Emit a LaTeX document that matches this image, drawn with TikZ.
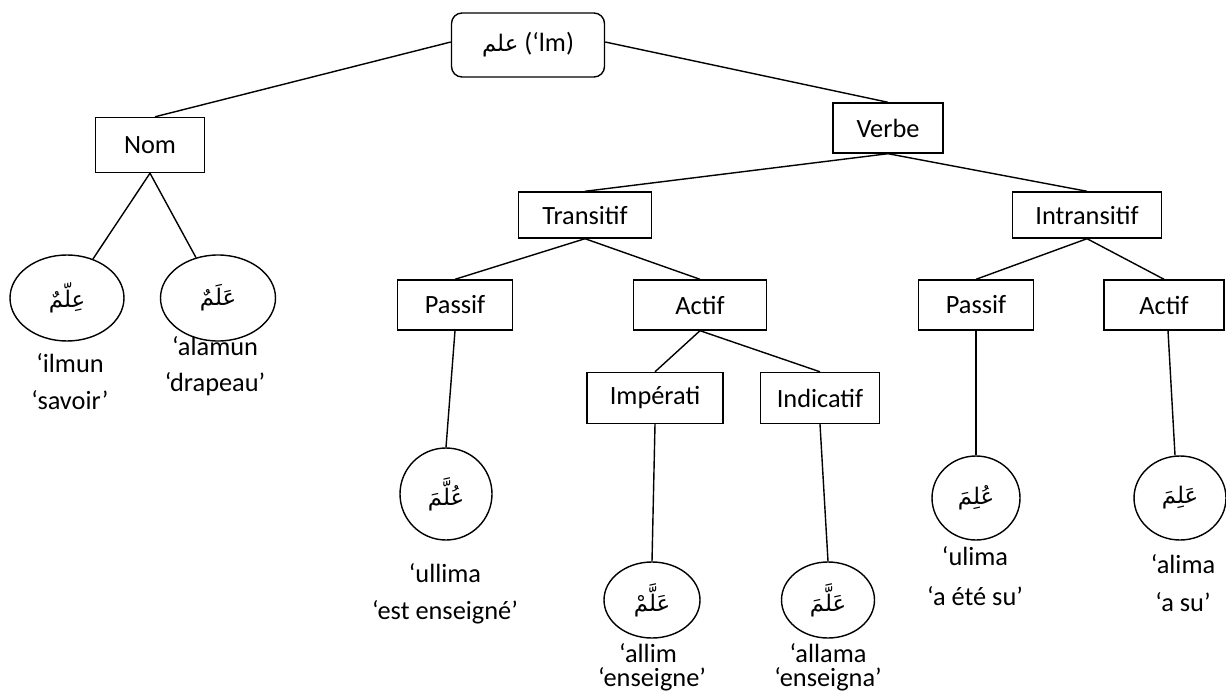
\documentclass[tikz,border=0pt]{standalone}
\usepackage{fontspec}
\setmainfont{Carlito}
\newfontfamily\arabicfont[Script=Arabic]{DejaVu Sans}
\TeXXeTstate=1
\usetikzlibrary{shapes.geometric}
\begin{document}
\begin{tikzpicture}[x=0.02cm,y=-0.02cm,
  every node/.style={font=\fontsize{15}{18}\selectfont},
  box/.style={draw,line width=0.8pt,rectangle,inner sep=0pt},
  oval/.style={draw,line width=0.8pt,ellipse,inner sep=0pt},
  lbl/.style={inner sep=0pt},
  bl/.style={inner sep=0pt,anchor=base},
  edge/.style={line width=0.8pt}]
\useasboundingbox (0,0) rectangle (1226,692);
\newcommand{\ar}[1]{{\arabicfont\fontsize{13}{15}\selectfont\beginR #1\endR}}
% boxes
\node[box,rounded corners=6pt,minimum width=153*0.02cm,minimum height=64*0.02cm] (root) at (528,45) {\ar{علم} (‘lm)};
\node[box,minimum width=109*0.02cm,minimum height=55*0.02cm] (nom) at (150,145) {Nom};
\node[box,minimum width=110*0.02cm,minimum height=50*0.02cm] (verbe) at (888,128) {Verbe};
\node[box,minimum width=133*0.02cm,minimum height=46*0.02cm] (trans) at (585,215) {Transitif};
\node[box,minimum width=149*0.02cm,minimum height=46*0.02cm] (intrans) at (1087,215) {Intransitif};
\node[box,minimum width=115*0.02cm,minimum height=50*0.02cm] (pas1) at (455,305) {Passif};
\node[box,minimum width=133*0.02cm,minimum height=50*0.02cm] (act1) at (700,305) {Actif};
\node[box,minimum width=115*0.02cm,minimum height=50*0.02cm] (pas2) at (976,305) {Passif};
\node[box,minimum width=120*0.02cm,minimum height=50*0.02cm] (act2) at (1164,305) {Actif};
\node[box,minimum width=136*0.02cm,minimum height=51*0.02cm] (imp) at (655,398) {Impérati};
\node[box,minimum width=119*0.02cm,minimum height=51*0.02cm] (ind) at (820,398) {Indicatif};
% ellipses
\node[oval,minimum width=114*0.02cm,minimum height=86*0.02cm] (e1) at (67,298) {\ar{عِلّمٌ}};
\node[oval,minimum width=115*0.02cm,minimum height=86*0.02cm] (e2) at (218,298) {\ar{عَلَمٌ}};
\node[oval,minimum width=92*0.02cm,minimum height=92*0.02cm] (e3) at (446,494) {\ar{عُلَّمَ}};
\node[oval,minimum width=96*0.02cm,minimum height=76*0.02cm] (e4) at (652,600) {\ar{عَلَّمْ}};
\node[oval,minimum width=93*0.02cm,minimum height=76*0.02cm] (e5) at (828,600) {\ar{عَلَّمَ}};
\node[oval,minimum width=88*0.02cm,minimum height=84*0.02cm] (e6) at (976,498) {\ar{عُلِمَ}};
\node[oval,minimum width=92*0.02cm,minimum height=84*0.02cm] (e7) at (1180,498) {\ar{عَلِمَ}};
% labels
\node[bl] (l1a) at (70,372) {‘ilmun};
\node[bl] (l1b) at (70,409) {‘savoir’};
\node[bl] (l2a) at (215,355) {‘alamun};
\node[bl] (l2b) at (215,391) {‘drapeau’};
\node[bl] (l3a) at (445,582) {‘ullima};
\node[bl] (l3b) at (445,619) {‘est enseigné’};
\node[bl] (l4a) at (648,662) {‘allim};
\node[bl] (l4b) at (652,686) {‘enseigne’};
\node[bl] (l5a) at (828,662) {‘allama};
\node[bl] (l5b) at (828,686) {‘enseigna’};
\node[bl] (l6a) at (975,565) {‘ulima};
\node[bl] (l6b) at (975,605) {‘a été su’};
\node[bl] (l7a) at (1183,573) {‘alima};
\node[bl] (l7b) at (1183,611) {‘a su’};
% connectors
\coordinate (rootL) at ([yshift=0.06cm]root.west);
\coordinate (rootR) at ([yshift=0.06cm]root.east);
\draw[edge] (rootL) -- ([xshift=0.1cm]nom.north);
\draw[edge] (rootR) -- (verbe.north);
\draw[edge] (nom.south) -- (e1);
\draw[edge] (nom.south) -- (e2);
\draw[edge] (verbe.south) -- (trans.north);
\draw[edge] (verbe.south) -- (intrans.north);
\draw[edge] (trans.south) -- (pas1.north);
\draw[edge] (trans.south) -- (act1.north);
\draw[edge] (intrans.south) -- (pas2.north);
\draw[edge] (intrans.south) -- (act2.north);
\draw[edge] (pas1.south) -- (e3.north);
\draw[edge] (act1.south) -- (imp.north);
\draw[edge] (act1.south) -- (ind.north);
\draw[edge] (imp.south) -- (e4.north);
\draw[edge] (ind.south) -- (e5.north);
\draw[edge] (pas2.south) -- (e6.north);
\draw[edge] ([xshift=0.08cm]act2.south) -- ([xshift=-0.1cm]e7.north);
\end{tikzpicture}
\end{document}
